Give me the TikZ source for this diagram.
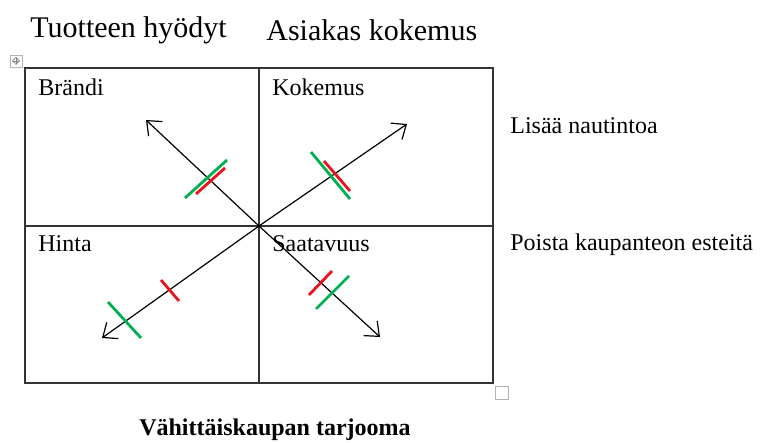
\documentclass[tikz,border=0pt]{standalone}
\usepackage{fontspec}
\setmainfont{Liberation Serif}
\usetikzlibrary{arrows.meta}
\definecolor{wordgreen}{RGB}{0,176,80}
\definecolor{wordred}{RGB}{230,20,30}
\colorlet{gridink}{black!80}
\colorlet{handle}{black!30}
\tikzset{
  grid/.style={gridink, line width=0.7pt},
  axis/.style={line width=0.6pt, -{Straight Barb[length=6pt, width=10pt]}},
  plus/.style={wordgreen, line width=1.4pt},
  minus/.style={wordred, line width=1.4pt},
  head/.style={anchor=west, inner sep=0pt, font=\fontsize{15}{18}\selectfont},
  cell/.style={anchor=west, inner sep=0pt, font=\fontsize{12}{14}\selectfont},
}

\begin{document}
\begin{tikzpicture}[x=0.5pt, y=-0.5pt]
\useasboundingbox (0,0) rectangle (767,443);
% table
\draw[grid] (25,68) rectangle (493,383);
\draw[grid] (259,68) -- (259,383);
\draw[grid] (25,226) -- (493,226);
\draw[handle, line width=0.4pt] (10,55) rectangle (22,67);
\draw[black!50, line width=0.3pt, {Straight Barb[length=1pt, width=2pt]}-{Straight Barb[length=1pt, width=2pt]}] (12,61) -- (20,61);
\draw[black!50, line width=0.3pt, {Straight Barb[length=1pt, width=2pt]}-{Straight Barb[length=1pt, width=2pt]}] (16,57) -- (16,65);
\draw[handle, line width=0.4pt] (495,386) rectangle (508,399);
% headings
\node[head] (tuote) at (30,30) {Tuotteen hyödyt};
\node[head] (asiakas) at (266,30) {Asiakas kokemus};
\node[cell] (brandi) at (38,87) {Brändi};
\node[cell] (kokemus) at (272,87) {Kokemus};
\node[cell] (hinta) at (38,244) {Hinta};
\node[cell] (saatavuus) at (272,244) {Saatavuus};
\node[cell] (nautinto) at (510,126) {Lisää nautintoa};
\node[cell] (esteet) at (510,245) {Poista kaupanteon esteitä};
\node[cell, anchor=center, font=\fontsize{12}{14}\selectfont\bfseries] (tarjooma) at (275,430) {Vähittäiskaupan tarjooma};
% arrows from the centre
\coordinate (o) at (259,226);
\coordinate (tipBrandi) at (146,120);
\coordinate (tipKokemus) at (407,124);
\coordinate (tipHinta) at (102,338);
\coordinate (tipSaatavuus) at (380,337);
\draw[axis] (o) -- (tipBrandi);
\draw[axis] (o) -- (tipKokemus);
\draw[axis] (o) -- (tipHinta);
\draw[axis] (o) -- (tipSaatavuus);
% marks
\draw[plus] (185,198) -- (227,160); \draw[minus] (196,194) -- (225,168);
\draw[plus] (311,152) -- (350,199); \draw[minus] (324,161) -- (350,191);
\draw[minus] (161,280) -- (179,301); \draw[plus] (108,302) -- (141,338);
\draw[minus] (309,295) -- (332,271); \draw[plus] (316,309) -- (349,276);
\end{tikzpicture}
\end{document}
